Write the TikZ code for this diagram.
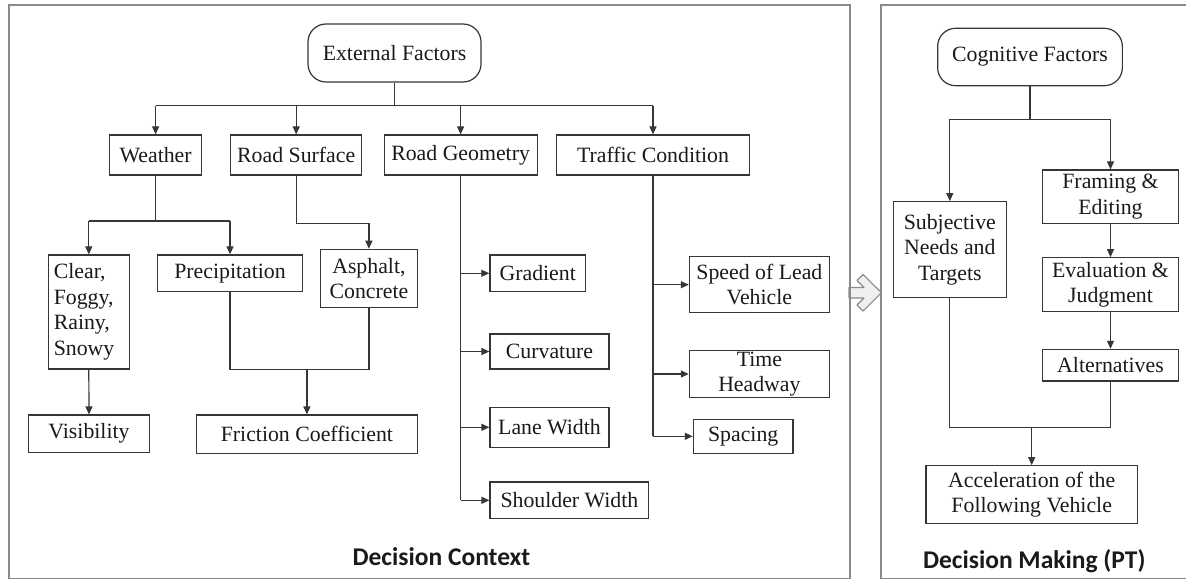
\documentclass[tikz,border=0pt]{standalone}
\usepackage{fontspec}
\setmainfont{Liberation Serif}
\newfontfamily\labelfont{Carlito}
\usetikzlibrary{arrows.meta,calc}
\definecolor{linec}{HTML}{363636}
\definecolor{framec}{HTML}{8A8A8A}
\definecolor{textc}{HTML}{1A1A1A}
\definecolor{arrowfill}{HTML}{F0F0F0}

\begin{document}
\begin{tikzpicture}[x=1pt,y=-1pt,
  box/.style={draw=linec, line width=1.2pt, inner sep=0pt, align=center, text=textc,
              font=\fontsize{21.8}{25.5}\selectfont},
  rbox/.style={box, rounded corners=18pt},
  conn/.style={draw=linec, line width=1.2pt},
  arr/.style={conn, -{Triangle[length=8pt,width=7pt]}},
  frame/.style={draw=framec, line width=1.4pt},
  caption/.style={font=\labelfont\bfseries\fontsize{25.5}{30}\selectfont, text=textc,
                  anchor=base, inner sep=0pt}]

\useasboundingbox (0,0) rectangle (1186,580);
\fill[white] (0,0) rectangle (1186,580);

% transition arrow between the two panels
\filldraw[fill=arrowfill, draw=framec, line width=1.1pt, line join=round]
  (849,287.5) -- (864,287.5) -- (857,280.5) -- (863,274.5) -- (881.5,292.7)
  -- (863,311) -- (857,305) -- (864,298) -- (849,298) -- cycle;

% panels
\draw[frame] (9,5) rectangle (850,578.5);
\draw[frame] (1190,5) -- (881,5) -- (881,578.5) -- (1190,578.5);

% ---- Decision context ----
\node[rbox, minimum width=173pt, minimum height=58pt] (ext) at (394.5,53) {External Factors};

\node[box, minimum width=92pt,  minimum height=40pt] (weather)  at (155.6,155) {Weather};
\node[box, minimum width=131pt, minimum height=40pt] (roadsurf) at (296.2,155) {Road Surface};
\node[box, minimum width=153pt, minimum height=40pt] (roadgeom) at (460.6,155) {Road Geometry};
\node[box, minimum width=192.5pt, minimum height=40pt] (traffic) at (653,155) {Traffic Condition};

\node[box, align=left, text width=70pt, minimum width=81pt, minimum height=114pt] (clear) at (88.8,312)
  {Clear,\\Foggy,\\Rainy,\\Snowy};
\node[box, minimum width=144.6pt, minimum height=36.7pt] (precip) at (230,273.3) {Precipitation};
\node[box, minimum width=97pt, minimum height=58pt] (asphalt) at (368.9,278.3) {Asphalt,\\Concrete};

\node[box, minimum width=120.6pt, minimum height=37.3pt] (visibility) at (89,433.7) {Visibility};
\node[box, minimum width=221pt, minimum height=38.3pt] (friction) at (306.9,434.2) {Friction Coefficient};

\node[box, minimum width=95.6pt, minimum height=36.7pt] (gradient)  at (537.7,273.3) {Gradient};
\node[box, minimum width=119pt,  minimum height=35pt]   (curvature) at (549.5,351.5) {Curvature};
\node[box, minimum width=119pt,  minimum height=40pt]   (lanewidth) at (549.5,427.3) {Lane Width};
\node[box, minimum width=158.8pt, minimum height=36.7pt] (shoulder) at (569.4,500.3) {Shoulder Width};

\node[box, minimum width=140pt, minimum height=56pt]   (speed)    at (759.4,284.7) {Speed of Lead\\Vehicle};
\node[box, minimum width=140pt, minimum height=46.7pt] (timehead) at (759.4,374) {Time\\Headway};
\node[box, minimum width=99.7pt, minimum height=34pt]  (spacing)  at (743.2,436.3) {Spacing};

\node[caption] (ctxlabel) at (441.4,565.5) {Decision Context};

% connectors from External Factors
\coordinate (busE) at (0,105.7);
\draw[conn] (ext.south) -- (ext.south |- busE);
\draw[conn] (weather.north |- busE) -- (traffic.north |- busE);
\foreach \n in {weather,roadsurf,roadgeom,traffic}
  \draw[arr] (\n.north |- busE) -- (\n.north);

% weather branch
\coordinate (busW) at (0,221);
\draw[conn] (weather.south) -- (weather.south |- busW);
\draw[conn] (clear.north |- busW) -- (precip.north |- busW);
\draw[arr] (clear.north |- busW) -- (clear.north);
\draw[arr] (precip.north |- busW) -- (precip.north);
\draw[arr] (clear.south) -- (visibility.north);

% road surface branch
\coordinate (busR) at (0,223.3);
\draw[arr] (roadsurf.south) -- (roadsurf.south |- busR) -| (asphalt.north);

% friction coefficient
\coordinate (busF) at (0,369.3);
\draw[conn] (precip.south) -- (precip.south |- busF) -- (asphalt.south |- busF) -- (asphalt.south);
\draw[arr] (friction.north |- busF) -- (friction.north);

% road geometry branch
\draw[conn] (roadgeom.south) -- (roadgeom.south |- shoulder.west);
\foreach \n in {gradient,curvature,lanewidth,shoulder}
  \draw[arr] (roadgeom.south |- \n.west) -- (\n.west);

% traffic condition branch
\draw[conn] (traffic.south) -- (traffic.south |- spacing.west);
\foreach \n in {speed,timehead,spacing}
  \draw[arr] (traffic.south |- \n.west) -- (\n.west);

% ---- Decision making ----
\node[rbox, minimum width=184.7pt, minimum height=57.4pt] (cog) at (1030,57) {Cognitive Factors};
\node[box, minimum width=135.7pt, minimum height=53.3pt] (framing) at (1110.5,196.7) {Framing \&\\Editing};
\node[box, minimum width=113.3pt, minimum height=95.6pt] (subj) at (949.8,249.5) {Subjective\\Needs and\\Targets};
\node[box, minimum width=135.7pt, minimum height=54pt] (evaluation) at (1110.5,284.7) {Evaluation \&\\Judgment};
\node[box, minimum width=135.7pt, minimum height=31.7pt] (alt) at (1110.5,365.2) {Alternatives};
\node[box, minimum width=211.4pt, minimum height=57.6pt] (accel) at (1031.7,494.5)
  {Acceleration of the\\Following Vehicle};

\node[caption] (dmlabel) at (1034.2,568) {Decision Making (PT)};

\coordinate (busC) at (0,119.3);
\draw[conn] (cog.south) -- (cog.south |- busC);
\draw[conn] (subj.north |- busC) -- (framing.north |- busC);
\draw[arr] (subj.north |- busC) -- (subj.north);
\draw[arr] (framing.north |- busC) -- (framing.north);
\draw[arr] (framing.south) -- (evaluation.north);
\draw[arr] (evaluation.south) -- (alt.north);

\coordinate (busA) at (0,427.3);
\draw[conn] (subj.south) -- (subj.south |- busA) -- (alt.south |- busA) -- (alt.south);
\draw[arr] (accel.north |- busA) -- (accel.north);

\end{tikzpicture}
\end{document}
